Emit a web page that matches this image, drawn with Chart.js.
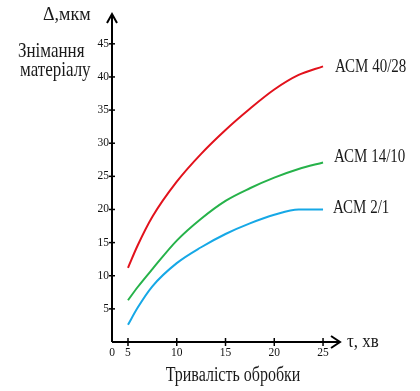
<!DOCTYPE html>
<html>
<head>
<meta charset="utf-8">
<script src="https://cdn.jsdelivr.net/npm/chart.js@4.4.1/dist/chart.umd.min.js"></script>
<style>
  body { margin: 0; background: #fff; }
  canvas { display: block; }
</style>
</head>
<body>
<canvas id="myChart" width="420" height="391"></canvas>
<script>
// ----- DATA -----
const timeMin = [5, 6, 7.5, 10, 12.5, 15, 17.5, 20, 22.5, 25];
const acm4028 = [11.2, 14.6, 18.9, 24.2, 28.4, 32.0, 35.2, 38.1, 40.3, 41.6];
const acm1410 = [6.3, 8.3, 11.0, 15.3, 18.6, 21.3, 23.2, 24.8, 26.1, 27.1];
const acm21 = [2.6, 5.2, 8.4, 11.9, 14.3, 16.3, 17.9, 19.2, 20.0, 20.0];
const seriesNames = ['АСМ 40/28', 'АСМ 14/10', 'АСМ 2/1'];
const xTicks = [5, 10, 15, 20, 25];
const yTicks = [5, 10, 15, 20, 25, 30, 35, 40, 45];

const SERIF = '"Liberation Serif", "DejaVu Serif", serif';

function toPoints(ys) {
    return timeMin.map((t, i) => ({ x: t, y: ys[i] }));
}

// text a little stretched vertically, like the scan
function drawText(ctx, txt, x, y, size, align, sy) {
    ctx.save();
    ctx.font = size + 'px ' + SERIF;
    ctx.textAlign = align;
    ctx.textBaseline = 'alphabetic';
    ctx.translate(x, y);
    ctx.scale(1, sy);
    ctx.fillText(txt, 0, 0);
    ctx.restore();
}

// ----- AXES, TICKS, LABELS -----
const axesPlugin = {
    id: 'axesPlugin',
    afterDatasetsDraw(chart) {
        const ctx = chart.ctx;
        const xs = chart.scales.x;
        const ys = chart.scales.y;
        const x0 = xs.getPixelForValue(xs.min);
        const y0 = ys.getPixelForValue(0);
        const top = ys.getPixelForValue(ys.max);
        const right = xs.getPixelForValue(xs.max);

        ctx.save();
        ctx.strokeStyle = '#000';
        ctx.fillStyle = '#111';
        ctx.lineWidth = 2;

        // axis lines
        ctx.beginPath();
        ctx.moveTo(x0, y0);
        ctx.lineTo(x0, top);
        ctx.moveTo(x0, y0);
        ctx.lineTo(right, y0);
        ctx.stroke();

        // arrows
        ctx.beginPath();
        ctx.moveTo(x0 - 5, top + 9);
        ctx.lineTo(x0, top);
        ctx.lineTo(x0 + 5, top + 9);
        ctx.moveTo(right - 9, y0 - 6);
        ctx.lineTo(right, y0);
        ctx.lineTo(right - 9, y0 + 6);
        ctx.stroke();

        // y ticks
        ctx.lineWidth = 1.5;
        yTicks.forEach(v => {
            const py = ys.getPixelForValue(v);
            ctx.beginPath();
            ctx.moveTo(x0 - 3, py);
            ctx.lineTo(x0 + 3, py);
            ctx.stroke();
            ctx.font = '11.5px ' + SERIF;
            ctx.textAlign = 'right';
            ctx.textBaseline = 'middle';
            ctx.fillText(String(v), x0 - 3, py);
        });

        // x ticks
        xTicks.forEach(v => {
            const px = xs.getPixelForValue(v);
            ctx.beginPath();
            ctx.moveTo(px, y0 - 4);
            ctx.lineTo(px, y0 + 4);
            ctx.stroke();
            ctx.font = '11.5px ' + SERIF;
            ctx.textAlign = 'center';
            ctx.textBaseline = 'middle';
            ctx.fillText(String(v), px, y0 + 11);
        });
        ctx.fillText('0', x0, y0 + 11);

        // titles
        ctx.fillStyle = '#1a1a1a';
        drawText(ctx, 'Δ,мкм', 43, 20, 18, 'left', 1.05);
        drawText(ctx, 'Знімання', 18, 56.5, 17, 'left', 1.2);
        drawText(ctx, 'матеріалу', 20, 76, 17, 'left', 1.2);
        drawText(ctx, 'Тривалість обробки', 233, 381, 16, 'center', 1.25);
        drawText(ctx, 'τ, хв', 347, 347, 17, 'left', 1.15);

        // series labels
        drawText(ctx, seriesNames[0], 335, 71.5, 15, 'left', 1.3);
        drawText(ctx, seriesNames[1], 334, 161.5, 15, 'left', 1.3);
        drawText(ctx, seriesNames[2], 333, 212.5, 15, 'left', 1.3);

        ctx.restore();
    }
};

const ctx = document.getElementById('myChart').getContext('2d');

new Chart(ctx, {
    type: 'line',
    data: {
        datasets: [
            { label: seriesNames[0], data: toPoints(acm4028), borderColor: 'rgb(226, 18, 28)' },
            { label: seriesNames[1], data: toPoints(acm1410), borderColor: 'rgb(38, 178, 74)' },
            { label: seriesNames[2], data: toPoints(acm21), borderColor: 'rgb(22, 168, 230)' }
        ]
    },
    options: {
        responsive: false,
        animation: false,
        layout: { padding: { left: 112, right: 80, top: 14, bottom: 49 } },
        elements: {
            line: { borderWidth: 2, cubicInterpolationMode: 'monotone', fill: false },
            point: { radius: 0 }
        },
        plugins: {
            legend: { display: false },
            tooltip: { enabled: false }
        },
        scales: {
            x: { type: 'linear', display: false, min: 3.36, max: 26.74 },
            y: { type: 'linear', display: false, min: 0, max: 49.5 }
        }
    },
    plugins: [axesPlugin]
});
</script>
</body>
</html>
